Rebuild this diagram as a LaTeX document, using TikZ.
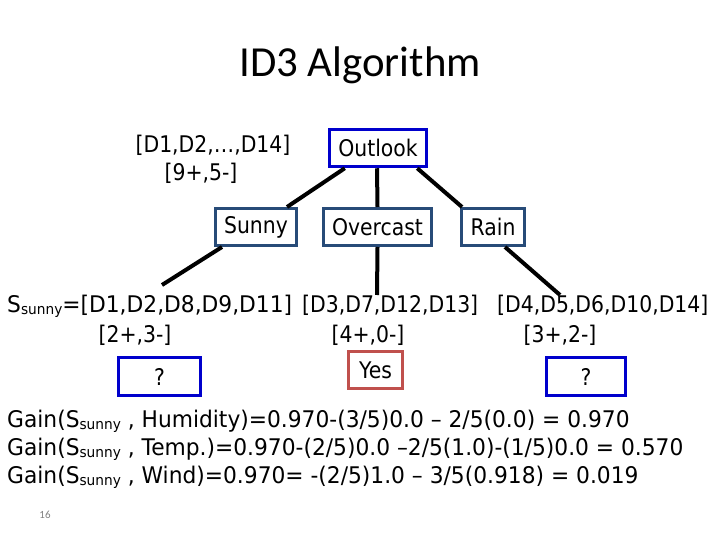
\documentclass[tikz,border=0pt]{standalone}
\usepackage{fontspec}
\setmainfont{DejaVu Sans}[FakeStretch=0.89]
\newfontfamily\gainfont{DejaVu Sans}[FakeStretch=0.95]
\newfontfamily\titlefont{Carlito}
\usetikzlibrary{calc}
\definecolor{outlookblue}{RGB}{0,0,204}
\definecolor{catborder}{RGB}{40,75,120}
\definecolor{qblue}{RGB}{0,0,204}
\definecolor{yesred}{RGB}{192,80,77}
\definecolor{pagegray}{RGB}{128,128,128}
\newcommand\subtxt[1]{\raisebox{-2bp}{\fontsize{14.5}{14.5}\selectfont #1}}
\tikzset{
  body/.style={font=\fontsize{23}{27}\selectfont, inner sep=0pt},
  gain/.style={font=\gainfont\fontsize{23}{27}\selectfont, inner sep=0pt, anchor=base west},
  treebox/.style={body, draw=catborder, line width=3bp, minimum height=37bp},
  rootbox/.style={body, draw=outlookblue, line width=3.5bp, minimum height=37bp, minimum width=97bp},
  qbox/.style={body, draw=qblue, line width=3.5bp, minimum height=38bp},
  yesbox/.style={body, draw=yesred, line width=3bp, minimum height=37bp, minimum width=54bp},
  branch/.style={line width=4bp, black},
}
\begin{document}
\begin{tikzpicture}[x=1bp, y=-1bp]
\useasboundingbox (0,0) rectangle (720,540);
% title
\node[font=\titlefont\fontsize{43}{47}\selectfont, inner sep=0pt, anchor=base] (title) at (360,77) {ID3 Algorithm};
% root info
\node[body, anchor=base] (dall) at (213,153) {[D1,D2,…,D14]};
\node[body, anchor=base] (call) at (201,181) {[9+,5-]};
% tree boxes
\node[rootbox] (outlook) at (378,148) {Outlook};
\node[treebox, minimum width=81bp] (sunny) at (256,227) {Sunny};
\node[treebox, minimum width=108bp] (overcast) at (377.5,227) {Overcast};
\node[treebox, minimum width=63bp] (rain) at (493,227) {Rain};
% branches from root
\draw[branch] ([xshift=17bp]outlook.south west) -- ([xshift=-11bp]sunny.north east);
\draw[branch] ([xshift=-1bp]outlook.south) -- (overcast.north);
\draw[branch] ([xshift=-11bp]outlook.south east) -- ([xshift=2bp]rain.north west);
% free ends of lower branches
\coordinate (endS) at (162,285);
\coordinate (endO) at (377,295);
\coordinate (endR) at (560,295);
\draw[branch] ([xshift=8bp]sunny.south west) -- (endS);
\draw[branch] (overcast.south) -- (endO);
\draw[branch] ([xshift=-21bp]rain.south east) -- (endR);
% subsets
\node[gain] (ssunny) at (7,312) {S\subtxt{sunny}=[D1,D2,D8,D9,D11]};
\node[body, anchor=base west] (sover) at (302,312) {[D3,D7,D12,D13]};
\node[body, anchor=base west] (srain) at (497,312) {[D4,D5,D6,D10,D14]};
\node[body, anchor=base] (csunny) at (135,342) {[2+,3-]};
\node[body, anchor=base] (cover) at (368,342) {[4+,0-]};
\node[body, anchor=base] (crain) at (560,342) {[3+,2-]};
% leaves
\node[qbox, minimum width=82bp] (qleft) at (159.5,376.5) {?};
\node[yesbox] (yes) at (375.5,370) {Yes};
\node[qbox, minimum width=79bp] (qright) at (586,376.5) {?};
% gains
\node[gain] (g1) at (7,427) {Gain(S\subtxt{sunny} , Humidity)=0.970-(3/5)0.0 – 2/5(0.0) = 0.970};
\node[gain] (g2) at (7,455) {Gain(S\subtxt{sunny} , Temp.)=0.970-(2/5)0.0 –2/5(1.0)-(1/5)0.0 = 0.570};
\node[gain] (g3) at (7,483) {Gain(S\subtxt{sunny} , Wind)=0.970= -(2/5)1.0 – 3/5(0.918) = 0.019};
% page number
\node[font=\titlefont\fontsize{11}{13}\selectfont, text=pagegray, inner sep=0pt] (pnum) at (45,515) {16};
\end{tikzpicture}
\end{document}
